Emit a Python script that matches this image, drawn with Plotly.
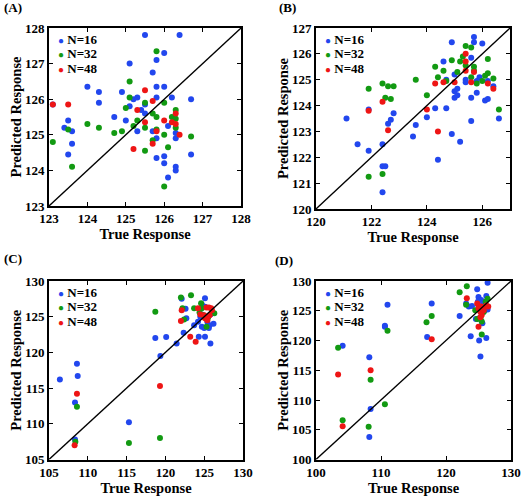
import plotly.graph_objects as go

# ---------------- data ----------------
# Panel A
A_TRUE_N16 = [123.1, 123.4, 123.5, 123.6, 123.6, 123.5, 124.0, 124.3, 124.3, 124.7, 124.9, 125.0, 125.1, 125.1,
              125.2, 125.3, 125.3, 125.4, 125.5, 125.5, 125.5, 125.7, 125.7, 125.8, 125.8, 125.8, 125.8, 125.8,
              126.0, 126.0, 126.0, 126.0, 126.1, 126.1, 126.2, 126.3, 126.3, 126.3, 126.3, 126.4, 126.7, 126.7]
A_PRED_N16 = [125.85, 125.2, 125.4, 125.1, 124.75, 124.45, 126.35, 126.2, 125.9, 125.5, 126.2, 125.4, 125.8, 127.0,
              126.0, 126.05, 125.1, 125.7, 125.6, 125.85, 127.8, 126.75, 125.1, 127.1, 126.35, 126.05, 124.9, 124.35,
              127.3, 126.35, 124.4, 124.2, 125.25, 123.8, 126.05, 125.05, 124.9, 124.1, 124.0, 127.8, 126.0, 124.45]
A_TRUE_N32 = [123.1, 123.5, 123.6, 124.0, 124.3, 124.7, 124.9, 125.0, 125.1, 125.1, 125.2, 125.3, 125.5, 125.5,
              125.5, 125.7, 125.7, 125.8, 125.8, 125.8, 126.0, 126.0, 126.0, 126.1, 126.2, 126.3, 126.3, 126.3, 126.7]
A_PRED_N32 = [124.8, 125.15, 124.1, 125.3, 125.2, 125.05, 125.1, 125.75, 126.5, 126.05, 125.25, 125.4, 125.9, 125.2,
              124.55, 125.6, 124.85, 127.35, 125.5, 125.15, 125.9, 125.0, 123.55, 124.65, 125.5, 125.7, 125.45, 125.2, 124.95]
A_TRUE_N48 = [123.1, 123.5, 125.2, 125.3, 125.5, 125.5, 125.7, 125.7, 125.8, 126.0, 126.2, 126.3, 126.3, 126.4]
A_PRED_N48 = [125.85, 125.85, 124.6, 125.7, 126.25, 125.35, 125.95, 124.75, 125.1, 125.4, 125.35, 125.6, 125.3, 125.0]

# Panel B
B_TRUE_N16 = [121.1, 121.5, 121.9, 121.9, 122.4, 122.4, 122.5, 122.4, 122.6, 122.7, 122.8, 123.5, 123.6, 124.0,
              124.3, 124.4, 124.7, 124.6, 124.7, 124.9, 124.9, 125.0, 125.0, 125.0, 125.1, 125.1, 125.2, 125.4,
              125.4, 125.6, 125.6, 125.6, 125.7, 125.7, 125.8, 125.8, 125.9, 126.0, 126.1, 126.2, 126.2, 126.4, 126.6]
B_PRED_N16 = [123.5, 122.5, 123.85, 122.25, 122.5, 121.65, 121.65, 120.65, 123.3, 123.45, 123.7, 122.8, 123.25, 123.55,
              123.9, 121.9, 123.9, 125.7, 125.0, 126.45, 122.9, 125.2, 124.55, 124.3, 124.65, 124.4, 122.6, 125.0,
              124.9, 125.85, 124.3, 123.4, 126.65, 126.45, 124.95, 124.5, 125.1, 126.4, 124.2, 124.25, 124.95, 124.75, 123.5]
B_TRUE_N32 = [121.9, 121.9, 122.4, 122.5, 122.4, 122.6, 122.7, 122.8, 123.6, 124.0, 124.3, 124.4, 124.6, 124.7,
              124.9, 125.1, 125.2, 125.3, 125.4, 125.4, 125.6, 125.6, 125.7, 125.7, 125.8, 126.0, 126.1, 126.2,
              126.2, 126.4, 126.6]
B_PRED_N32 = [124.65, 121.25, 124.85, 124.3, 121.35, 124.75, 124.25, 124.75, 125.0, 124.4, 125.5, 125.1, 125.35, 124.95,
              125.75, 125.3, 125.7, 125.9, 126.3, 125.55, 126.25, 125.1, 125.5, 125.35, 124.85, 124.95, 125.15, 125.8,
              125.25, 125.05, 123.85]
B_TRUE_N48 = [121.9, 122.4, 122.6, 124.0, 124.3, 124.4, 124.6, 125.0, 125.4, 125.4, 125.4, 125.6, 125.7, 126.2, 126.4]
B_PRED_N48 = [123.8, 124.15, 123.05, 123.85, 124.85, 123.0, 124.9, 124.9, 126.0, 125.7, 125.35, 124.9, 125.3, 124.85, 124.65]

# Panel C
C_TRUE_N16 = [106.4, 108.6, 108.7, 108.35, 108.35, 115.3, 118.7, 120.1, 119.35, 121.45, 122.35, 122.6, 122.7, 123.7,
              124.3, 125.1, 125.1, 124.7, 125.8, 125.6, 126.2, 124.2, 124.5, 124.7, 125.0, 125.5, 125.7, 124.7,
              125.3, 125.8, 125.1, 125.4, 122.1]
C_PRED_N16 = [116.2, 118.4, 116.7, 113.0, 107.8, 110.2, 122.0, 122.15, 119.5, 121.25, 122.75, 126.1, 124.8, 123.8,
              122.2, 122.2, 127.6, 126.7, 121.25, 123.4, 124.0, 124.3, 125.0, 123.6, 123.4, 123.6, 123.8, 125.3,
              124.8, 125.3, 126.4, 124.3, 127.5]
C_TRUE_N32 = [118.7, 122.0, 123.3, 122.2, 122.4, 123.7, 124.6, 124.7, 124.9, 125.5, 126.0, 126.3, 125.3, 124.4,
              119.3, 115.3, 108.6, 108.4]
C_PRED_N32 = [125.7, 127.7, 128.0, 126.2, 124.6, 126.2, 126.9, 126.2, 125.2, 124.9, 125.7, 125.5, 123.6, 125.6,
              108.0, 107.3, 112.4, 107.5]
C_TRUE_N48 = [108.6, 108.3, 119.3, 122.1, 122.0, 123.2, 123.9, 124.2, 124.5, 125.0, 125.3, 125.6, 125.9, 125.1,
              125.4, 125.7, 126.0]
C_PRED_N48 = [114.2, 107.0, 115.3, 125.9, 124.4, 122.2, 121.5, 126.2, 125.3, 125.2, 126.3, 126.3, 126.2, 124.8,
              124.5, 125.2, 125.9]

# Panel D
D_TRUE_N16 = [104.1, 108.2, 108.4, 108.2, 110.6, 110.6, 111.0, 117.1, 117.8, 122.1, 123.8, 123.1, 123.5, 124.0,
              124.8, 126.4, 125.0, 126.2, 125.1, 125.3, 126.2, 124.9, 125.0, 125.5, 125.8, 126.1, 126.4, 125.9,
              125.4, 124.6, 125.6, 125.0]
D_PRED_N16 = [119.1, 117.2, 108.5, 103.8, 122.5, 122.3, 126.0, 120.6, 126.2, 124.1, 120.7, 126.2, 125.7, 125.8,
              128.6, 129.7, 127.3, 127.5, 120.0, 117.3, 120.4, 126.5, 125.9, 125.4, 126.1, 125.4, 125.2, 125.0,
              126.8, 123.6, 122.9, 123.7]
D_TRUE_N32 = [103.4, 104.1, 108.1, 108.4, 110.6, 111.0, 117.0, 117.8, 122.1, 123.2, 123.1, 124.5, 124.8, 125.3,
              125.5, 125.5, 126.1, 126.4, 125.8]
D_PRED_N32 = [118.8, 106.6, 105.5, 113.4, 109.3, 121.65, 123.05, 124.1, 128.1, 129.1, 126.0, 125.1, 123.6, 123.8,
              121.0, 123.2, 126.5, 127.0, 124.8]
D_TRUE_N48 = [103.4, 104.1, 108.4, 117.8, 123.2, 125.0, 124.8, 125.0, 125.3, 125.5, 125.4, 125.8, 126.2, 126.5, 125.3]
D_PRED_N48 = [114.3, 105.6, 115.0, 120.2, 127.1, 122.3, 126.2, 125.4, 124.8, 124.3, 125.7, 125.1, 125.9, 125.7, 123.9]

SERIES_NAMES = ["N=16", "N=32", "N=48"]
PANEL_LABELS = ["(A)", "(B)", "(C)", "(D)"]
X_TITLE = "True Response"
Y_TITLE = "Predicted Response"

PANELS = [
    dict(label="(A)", rng=[123, 128], xticks=[123, 124, 125, 126, 127, 128], yticks=[123, 124, 125, 126, 127, 128],
         series=[(A_TRUE_N16, A_PRED_N16), (A_TRUE_N32, A_PRED_N32), (A_TRUE_N48, A_PRED_N48)]),
    dict(label="(B)", rng=[120, 127], xticks=[120, 122, 124, 126], yticks=[120, 121, 122, 123, 124, 125, 126, 127],
         series=[(B_TRUE_N16, B_PRED_N16), (B_TRUE_N32, B_PRED_N32), (B_TRUE_N48, B_PRED_N48)]),
    dict(label="(C)", rng=[105, 130], xticks=[105, 110, 115, 120, 125, 130], yticks=[105, 110, 115, 120, 125, 130],
         series=[(C_TRUE_N16, C_PRED_N16), (C_TRUE_N32, C_PRED_N32), (C_TRUE_N48, C_PRED_N48)]),
    dict(label="(D)", rng=[100, 130], xticks=[100, 110, 120, 130], yticks=[100, 105, 110, 115, 120, 125, 130],
         series=[(D_TRUE_N16, D_PRED_N16), (D_TRUE_N32, D_PRED_N32), (D_TRUE_N48, D_PRED_N48)]),
]

# ---------------- styling / layout ----------------
W, H = 522, 497
COLORS = ["#2247ee", "#129a12", "#ee1515"]
FONT = "Liberation Serif"

# plot boxes in pixels: (left, right, top, bottom)
BOXES = [(49, 241, 28, 206), (316, 510, 28, 209), (49, 243, 281, 459.5), (316, 511, 281, 459.5)]
LABEL_POS = [(2, 8), (277, 8), (2, 258), (273, 260)]

fig = go.Figure()
annotations = []

for i, (p, box) in enumerate(zip(PANELS, BOXES)):
    k = "" if i == 0 else str(i + 1)
    xa, ya = "x" + k, "y" + k
    lo, hi = p["rng"]
    for (tx, py), name, col in zip(p["series"], SERIES_NAMES, COLORS):
        fig.add_trace(go.Scatter(x=tx, y=py, mode="markers", name=name, showlegend=False,
                                 marker=dict(color=col, size=6, line=dict(width=0)),
                                 xaxis=xa, yaxis=ya))
    fig.add_trace(go.Scatter(x=p["rng"], y=p["rng"], mode="lines", showlegend=False,
                             line=dict(color="black", width=1.3), xaxis=xa, yaxis=ya, hoverinfo="skip"))
    l, r, t, b = box
    tickfont = dict(family=FONT, size=13, color="black", weight="bold")
    titlefont = dict(family=FONT, size=14.5, color="black", weight="bold")
    axis_common = dict(range=[lo, hi], showgrid=False, zeroline=False, showline=True, linecolor="black",
                       linewidth=1.6, mirror="ticks", ticks="inside", ticklen=4, tickwidth=1.2,
                       tickcolor="black", tickfont=tickfont, automargin=False)
    fig.layout["xaxis" + k] = dict(axis_common, domain=[l / W, r / W], anchor=ya, tickvals=p["xticks"],
                                   title=dict(text=X_TITLE, standoff=3, font=titlefont))
    fig.layout["yaxis" + k] = dict(axis_common, domain=[1 - b / H, 1 - t / H], anchor=xa, tickvals=p["yticks"],
                                   title=dict(text=Y_TITLE, standoff=0, font=titlefont))
    # legend (top-left inside the box)
    for j, (name, col) in enumerate(zip(SERIES_NAMES, COLORS)):
        ypix = t + 11 + j * 14.5
        annotations.append(dict(
            xref="x%s domain" % k, yref="y%s domain" % k,
            x=(7) / (r - l), y=(b - ypix) / (b - t), xanchor="left", yanchor="middle", showarrow=False,
            text="<span style='color:%s;font-size:10px'>●</span> <b>%s</b>" % (col, name),
            font=dict(family=FONT, size=13, color="black")))
    lx, ly = LABEL_POS[i]
    annotations.append(dict(xref="paper", yref="paper", x=lx / W, y=1 - ly / H, xanchor="left", yanchor="middle",
                            showarrow=False, text="<b>%s</b>" % p["label"],
                            font=dict(family=FONT, size=13, color="black")))

fig.update_layout(width=W, height=H, margin=dict(l=0, r=0, t=0, b=0), paper_bgcolor="white",
                  plot_bgcolor="white", showlegend=False, annotations=annotations)
fig.write_html("out.html", config={"displayModeBar": False},
               post_script="document.body.style.margin='0px';")
